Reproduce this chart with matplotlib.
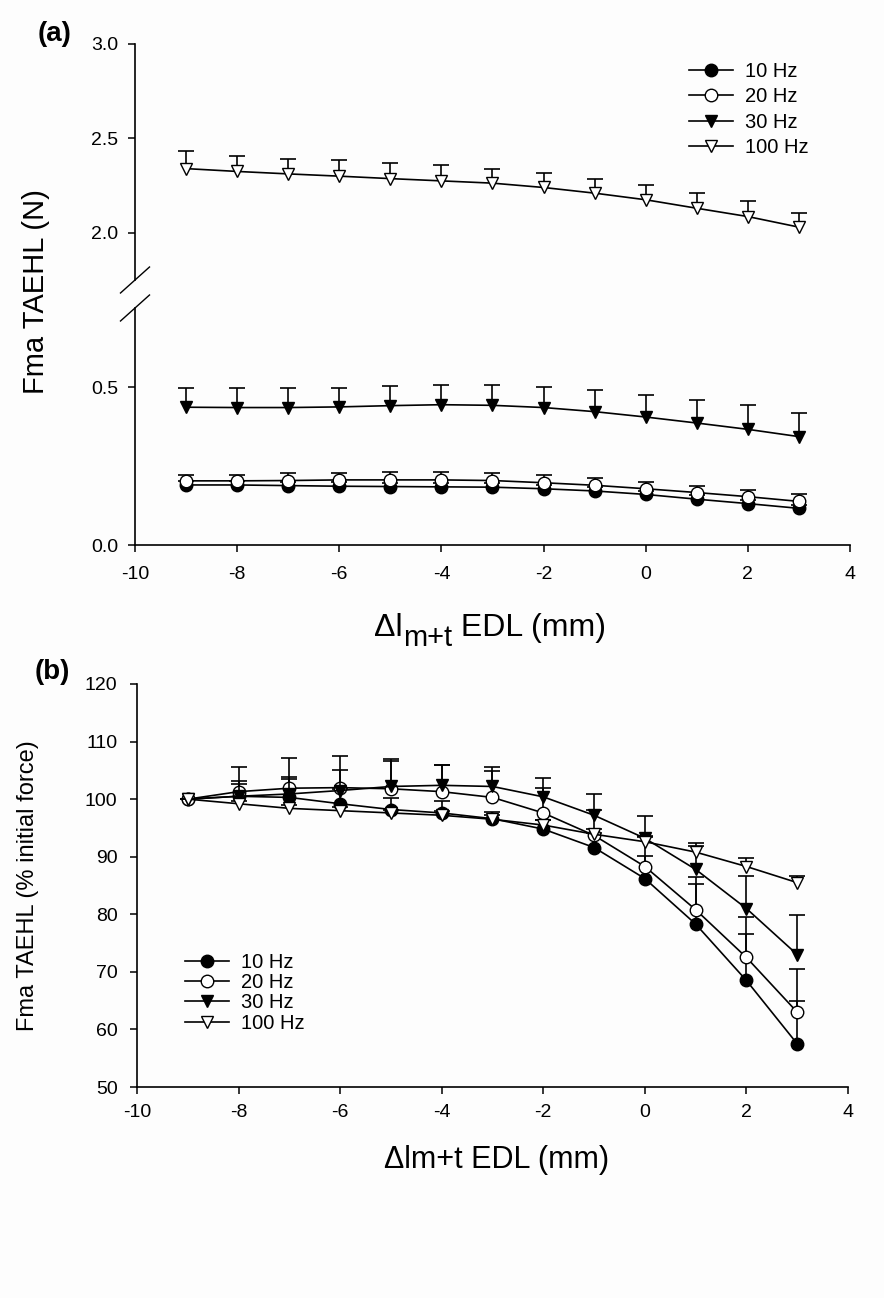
import numpy as np
import matplotlib.pyplot as plt
from matplotlib.lines import Line2D

plt.rcParams['font.family'] = ['Liberation Sans', 'DejaVu Sans']
plt.rcParams['axes.unicode_minus'] = False

x = np.arange(-9, 4)

# panel (a) - force in N, mean and upper SD
a_10 = [0.190, 0.190, 0.188, 0.186, 0.185, 0.184, 0.183, 0.178, 0.171, 0.160, 0.145, 0.131, 0.116]
a_10_err = [0.012, 0.012, 0.012, 0.012, 0.012, 0.012, 0.012, 0.012, 0.012, 0.012, 0.012, 0.012, 0.012]
a_20 = [0.203, 0.203, 0.204, 0.206, 0.206, 0.206, 0.204, 0.197, 0.189, 0.178, 0.166, 0.153, 0.138]
a_20_err = [0.017, 0.020, 0.023, 0.022, 0.025, 0.024, 0.023, 0.025, 0.024, 0.022, 0.022, 0.021, 0.022]
a_30 = [0.436, 0.435, 0.435, 0.437, 0.441, 0.444, 0.442, 0.435, 0.422, 0.405, 0.386, 0.366, 0.343]
a_30_err = [0.062, 0.061, 0.061, 0.061, 0.063, 0.063, 0.065, 0.065, 0.068, 0.071, 0.072, 0.076, 0.076]
a_100 = [2.340, 2.325, 2.312, 2.300, 2.287, 2.275, 2.263, 2.240, 2.210, 2.175, 2.130, 2.086, 2.030]
a_100_err = [0.094, 0.082, 0.081, 0.085, 0.085, 0.083, 0.075, 0.076, 0.074, 0.079, 0.083, 0.080, 0.075]

# panel (b) - % of initial force
b_10 = [100, 100.5, 100.3, 99.2, 98.2, 97.6, 96.6, 94.8, 91.6, 86.2, 78.3, 68.5, 57.5]
b_10_err = [0, 2.2, 3.2, 2.5, 2.0, 2.0, 1.2, 1.5, 2.5, 4.0, 7.0, 8.0, 7.5]
b_20 = [100, 101.3, 101.9, 102.0, 101.8, 101.3, 100.3, 97.6, 93.7, 88.3, 80.8, 72.5, 63.0]
b_20_err = [0, 4.2, 5.2, 3.1, 4.8, 4.6, 4.6, 4.4, 4.5, 5.3, 5.6, 7.0, 7.5]
b_30 = [100, 100.5, 100.9, 101.5, 102.2, 102.4, 102.2, 100.4, 97.2, 93.2, 87.8, 81.0, 73.0]
b_30_err = [0, 2.6, 2.9, 6.0, 4.8, 3.6, 3.4, 3.3, 3.7, 3.9, 4.6, 5.7, 6.8]
b_100 = [100, 99.2, 98.4, 98.0, 97.6, 97.2, 96.5, 95.5, 93.9, 92.6, 90.8, 88.3, 85.5]
b_100_err = [0, 0.5, 0.6, 0.6, 0.6, 0.7, 0.7, 0.8, 0.9, 0.9, 1.0, 1.4, 1.2]

labels = ['10 Hz', '20 Hz', '30 Hz', '100 Hz']
markers = ['o', 'o', 'v', 'v']
faces = ['black', 'white', 'black', 'white']

W, H = 884, 1298
fig = plt.figure(figsize=(W / 100, H / 100), dpi=100)
fig.patch.set_facecolor('#fdfdfd')

ax_top = fig.add_axes([135 / W, 1 - 280 / H, 715 / W, 236 / H])
ax_bot = fig.add_axes([135 / W, 1 - 545 / H, 715 / W, 237 / H])
ax_b = fig.add_axes([137 / W, 1 - 1087 / H, 711 / W, 403 / H])


def draw(ax, y, err, i):
    y = np.array(y, dtype=float)
    up = y + np.array(err, dtype=float)
    z = 3 + 2 * i
    ax.vlines(x, y, up, color='black', lw=1.2, zorder=z)
    ax.plot(x, up, ls='none', marker='_', ms=11, mew=1.2, color='black', zorder=z)
    ax.plot(x, y, '-', color='black', lw=1.2, marker=markers[i], ms=9,
            mfc=faces[i], mec='black', mew=1.0, zorder=z + 1)


draw(ax_bot, a_10, a_10_err, 0)
draw(ax_bot, a_20, a_20_err, 1)
draw(ax_bot, a_30, a_30_err, 2)
draw(ax_top, a_100, a_100_err, 3)

for i, (yv, ev) in enumerate([(b_10, b_10_err), (b_20, b_20_err), (b_30, b_30_err), (b_100, b_100_err)]):
    draw(ax_b, yv, ev, i)

for ax in (ax_top, ax_bot, ax_b):
    ax.set_facecolor('none')
    ax.spines['right'].set_visible(False)
    ax.spines['top'].set_visible(False)
    for s in ax.spines.values():
        s.set_linewidth(1.2)
    ax.tick_params(direction='out', length=5, width=1.1, labelsize=14, pad=7)
    ax.set_xlim(-10, 4)
    ax.set_xticks(np.arange(-10, 5, 2))

ax_top.set_ylim(1.75, 3.0)
ax_top.set_yticks([2.0, 2.5, 3.0])
ax_top.set_yticklabels(['2.0', '2.5', '3.0'])
ax_top.spines['bottom'].set_visible(False)
ax_top.tick_params(axis='x', bottom=False, labelbottom=False)

ax_bot.set_ylim(0, 0.75)
ax_bot.set_yticks([0.0, 0.5])
ax_bot.set_yticklabels(['0.0', '0.5'])
ax_bot.tick_params(axis='x', pad=10)

ax_b.set_ylim(50, 120)
ax_b.set_yticks(np.arange(50, 121, 10))
ax_b.tick_params(axis='y', pad=9)

# break marks on the y axis of panel (a)
dx, dy = 14.5 / 715, 13 / 236
ax_top.plot([-dx, dx], [-dy, dy], transform=ax_top.transAxes, color='black', lw=1, clip_on=False)
dy2 = 13 / 237
ax_bot.plot([-dx, dx], [1 - dy2, 1 + dy2], transform=ax_bot.transAxes, color='black', lw=1, clip_on=False)

handles = [Line2D([], [], color='black', lw=1.2, marker=markers[i], ms=9,
                  mfc=faces[i], mec='black', mew=1.0) for i in range(4)]
leg_kw = dict(frameon=False, fontsize=14.5, handlelength=2.2, handletextpad=0.6,
              borderpad=0, borderaxespad=0, numpoints=1,
              bbox_transform=fig.transFigure, loc='upper left')
ax_top.legend(handles, labels, bbox_to_anchor=(689 / W, 1 - 62 / H), labelspacing=0.32, **leg_kw)
ax_b.legend(handles, labels, bbox_to_anchor=(185 / W, 1 - 953 / H), labelspacing=0.06, **leg_kw)

fig.text(55 / W, 1 - 34 / H, '(a)', fontsize=20, fontweight='bold', ha='center', va='center')
fig.text(52 / W, 1 - 672 / H, '(b)', fontsize=20, fontweight='bold', ha='center', va='center')

fig.text(36 / W, 1 - 292 / H, 'Fma TAEHL (N)', rotation=90, fontsize=21, ha='center', va='center')
fig.text(28 / W, 1 - 886 / H, 'Fma TAEHL (% initial force)', rotation=90, fontsize=17,
         ha='center', va='center')

# x label of panel (a) with subscript built from pieces
r = fig.canvas.get_renderer()
pieces = [('\u0394l', 23, 0), ('m+t', 21, -10), (' EDL (mm)', 23, 0)]
texts = []
total = 0
for s, fs, off in pieces:
    t = fig.text(0, 0, s, fontsize=fs, va='baseline', ha='left')
    w = t.get_window_extent(r).width
    texts.append((t, w, off))
    total += w
xpos = 490 - total / 2
base = H - 636
for t, w, off in texts:
    t.set_position((xpos / W, (base + off) / H))
    xpos += w

fig.text(497 / W, 1 - 1160 / H, '\u0394lm+t EDL (mm)', fontsize=22, ha='center', va='center')

fig.savefig('out.png', dpi=100, facecolor=fig.get_facecolor())
